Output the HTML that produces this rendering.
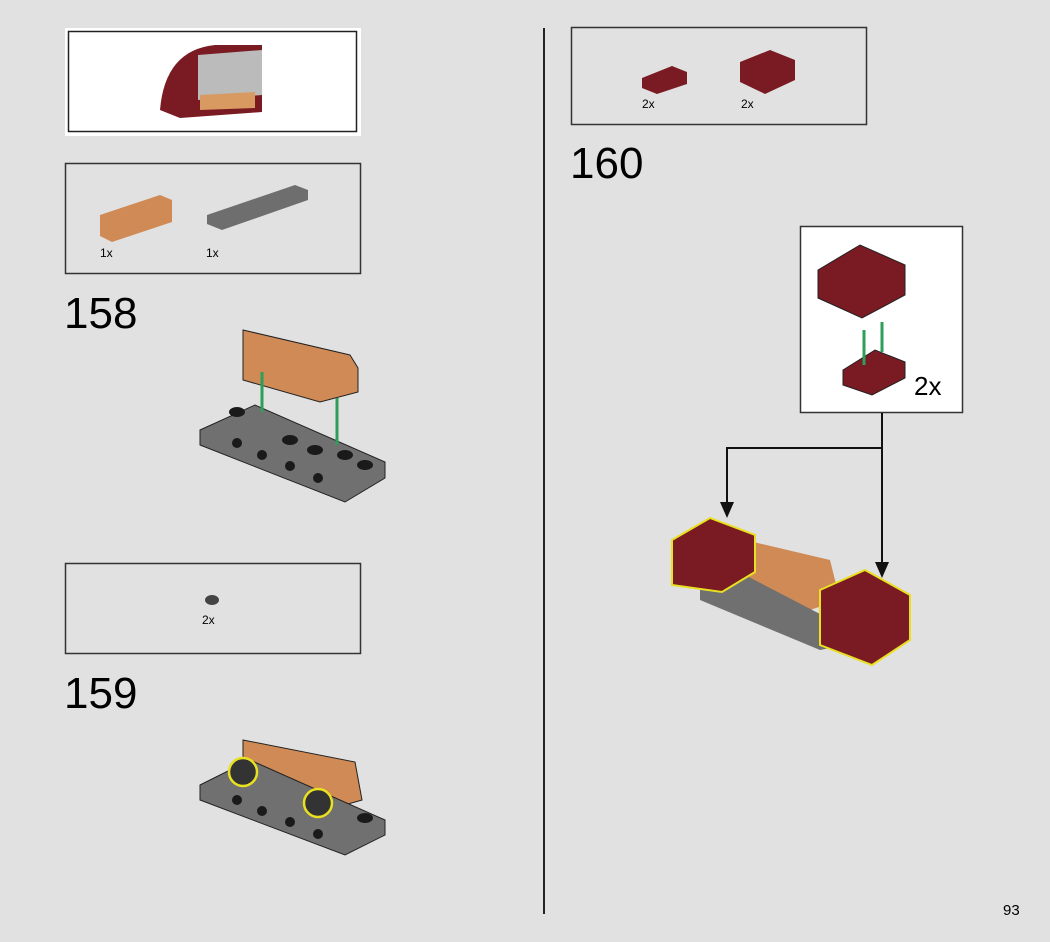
<!DOCTYPE html>
<html><head><style>
body{margin:0;background:#e1e1e1;}
svg{display:block;font-family:"Liberation Sans",sans-serif;}
</style></head><body>
<svg width="1050" height="942" viewBox="0 0 1050 942">
<rect width="1050" height="942" fill="#e1e1e1"/>
<rect x="65" y="28" width="296" height="108" fill="#fff"/>
<rect x="68.5" y="31.5" width="288" height="100" fill="#fff" stroke="#222" stroke-width="1.5"/>
<path d="M160 110 Q165 50 215 45 L262 45 L262 112 L180 118 Z" fill="#7a1a22"/>
<path d="M198 55 L262 50 L262 95 L198 100 Z" fill="#bbb"/>
<path d="M200 95 L255 92 L255 108 L200 110 Z" fill="#d99a62"/>
<rect x="65.5" y="163.5" width="295" height="110" fill="none" stroke="#333" stroke-width="1.5"/>
<path d="M100 215 L160 195 L172 200 L172 222 L112 242 L100 236 Z" fill="#cf8a55"/>
<path d="M207 215 L295 185 L308 190 L308 200 L222 230 L207 224 Z" fill="#6e6e6e"/>
<text x="100" y="257" font-size="12">1x</text>
<text x="206" y="257" font-size="12">1x</text>
<text x="64" y="328" font-size="44">158</text>
<path d="M243 330 L350 355 L358 368 L358 392 L320 402 L243 380 Z" fill="#cf8a55" stroke="#222"/>
<path d="M200 430 L255 405 L385 462 L385 478 L345 502 L200 445 Z" fill="#707070" stroke="#222"/>
<g fill="#1a1a1a">
<ellipse cx="237" cy="412" rx="8" ry="5"/><ellipse cx="290" cy="440" rx="8" ry="5"/><ellipse cx="315" cy="450" rx="8" ry="5"/>
<ellipse cx="345" cy="455" rx="8" ry="5"/><ellipse cx="365" cy="465" rx="8" ry="5"/>
<circle cx="237" cy="443" r="5"/><circle cx="262" cy="455" r="5"/><circle cx="290" cy="466" r="5"/><circle cx="318" cy="478" r="5"/>
</g>
<line x1="262" y1="372" x2="262" y2="412" stroke="#2f9e5a" stroke-width="3"/>
<line x1="337" y1="398" x2="337" y2="445" stroke="#2f9e5a" stroke-width="3"/>
<rect x="65.5" y="563.5" width="295" height="90" fill="none" stroke="#333" stroke-width="1.5"/>
<ellipse cx="212" cy="600" rx="7" ry="5" fill="#444"/>
<text x="202" y="624" font-size="12">2x</text>
<text x="64" y="708" font-size="44">159</text>
<path d="M243 740 L355 762 L362 800 L320 812 L243 790 Z" fill="#cf8a55" stroke="#222"/>
<path d="M200 785 L250 760 L385 820 L385 835 L345 855 L200 800 Z" fill="#707070" stroke="#222"/>
<g fill="#1a1a1a">
<circle cx="237" cy="800" r="5"/><circle cx="262" cy="811" r="5"/><circle cx="290" cy="822" r="5"/><circle cx="318" cy="834" r="5"/>
<ellipse cx="365" cy="818" rx="8" ry="5"/>
</g>
<circle cx="243" cy="772" r="14" fill="#333" stroke="#e8e020" stroke-width="2.5"/>
<circle cx="318" cy="803" r="14" fill="#333" stroke="#e8e020" stroke-width="2.5"/>
<line x1="544" y1="28" x2="544" y2="914" stroke="#222" stroke-width="2"/>
<rect x="571.5" y="27.5" width="295" height="97" fill="none" stroke="#333" stroke-width="1.5"/>
<path d="M642 78 L672 66 L687 72 L687 84 L657 94 L642 88 Z" fill="#7a1a22"/>
<path d="M740 62 L770 50 L795 60 L795 80 L765 94 L740 82 Z" fill="#7a1a22"/>
<text x="642" y="108" font-size="12">2x</text>
<text x="741" y="108" font-size="12">2x</text>
<text x="570" y="178" font-size="44">160</text>
<rect x="800.5" y="226.5" width="162" height="186" fill="#fff" stroke="#333" stroke-width="1.5"/>
<path d="M818 270 L860 245 L905 265 L905 295 L862 318 L818 298 Z" fill="#7a1a22" stroke="#222"/>
<path d="M843 370 L875 350 L905 362 L905 378 L872 395 L843 385 Z" fill="#7a1a22" stroke="#222"/>
<line x1="864" y1="365" x2="864" y2="330" stroke="#2f9e5a" stroke-width="3"/>
<line x1="882" y1="352" x2="882" y2="322" stroke="#2f9e5a" stroke-width="3"/>
<text x="914" y="395" font-size="26">2x</text>
<polyline points="882,413 882,448 727,448 727,505" fill="none" stroke="#111" stroke-width="2"/>
<polygon points="720,502 734,502 727,518" fill="#111"/>
<line x1="882" y1="448" x2="882" y2="565" stroke="#111" stroke-width="2"/>
<polygon points="875,562 889,562 882,578" fill="#111"/>
<path d="M745 540 L830 560 L840 600 L780 620 L745 590 Z" fill="#cf8a55"/>
<path d="M700 590 L745 575 L870 640 L820 650 L700 600 Z" fill="#707070"/>
<path d="M672 540 L710 518 L755 535 L755 572 L722 592 L672 585 Z" fill="#7a1a22" stroke="#e8e020" stroke-width="2"/>
<path d="M820 590 L865 570 L910 595 L910 640 L872 665 L820 645 Z" fill="#7a1a22" stroke="#e8e020" stroke-width="2"/>
<text x="1003" y="915" font-size="15">93</text>
</svg>
</body></html>
